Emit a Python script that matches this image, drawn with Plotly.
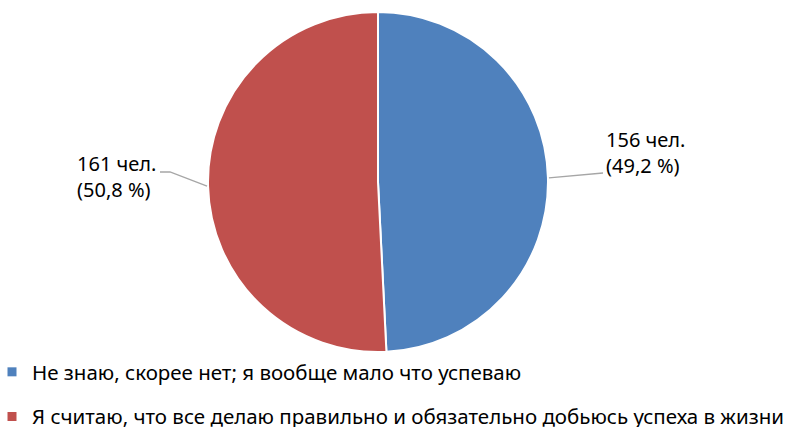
import math
import plotly.graph_objects as go

categories = [
    "Не знаю, скорее нет; я вообще мало что успеваю",
    "Я считаю, что все делаю правильно и обязательно добьюсь успеха в жизни",
]
counts = [156, 161]
percents = ["49,2", "50,8"]
colors = ["#4F81BD", "#C0504D"]

W, H = 796, 427
FONT = "Noto Sans"
FS_LEG = 20.5
FS_LAB = 20

# pie geometry (pixels)
cx, cy, r = 378, 182, 170
dom_x = [(cx - r) / W, (cx + r) / W]
dom_y = [1 - (cy + r) / H, 1 - (cy - r) / H]

fig = go.Figure()
fig.add_trace(go.Pie(
    labels=categories, values=counts, sort=False, direction="clockwise", rotation=0,
    marker=dict(colors=colors, line=dict(color="white", width=2)),
    textinfo="none", showlegend=False, domain=dict(x=dom_x, y=dom_y),
))

for cat, col in zip(categories, colors):
    fig.add_trace(go.Scatter(
        x=[None], y=[None], mode="markers", name=cat, legendgroup=cat,
        marker=dict(symbol="square", size=9, color=col),
    ))

# leader lines from slice midpoints
total = sum(counts)
cum = 0
mids = []
for v in counts:
    a = (cum + v / 2) / total * 2 * math.pi
    mids.append((cx + r * math.sin(a), cy - r * math.cos(a)))
    cum += v

def px(x, y):
    return x / W, 1 - y / H

shapes = []
x0, y0 = mids[0]
shapes.append(dict(type="path", xref="paper", yref="paper",
                   path="M {} {} L {} {}".format(*px(x0 + 1, y0), *px(603, 173)),
                   line=dict(color="#A6A6A6", width=1.3)))
x1, y1 = mids[1]
shapes.append(dict(type="path", xref="paper", yref="paper",
                   path="M {} {} L {} {} L {} {}".format(*px(x1 - 1, y1), *px(170, 172), *px(160, 172)),
                   line=dict(color="#A6A6A6", width=1.3)))

annotations = [
    dict(x=604 / W, y=1 - 153 / H, xref="paper", yref="paper", xanchor="left", yanchor="middle",
         align="left", showarrow=False,
         text=f"{counts[0]} чел.<br>({percents[0]} %)", font=dict(family=FONT, size=FS_LAB, color="#000")),
    dict(x=158 / W, y=1 - 176 / H, xref="paper", yref="paper", xanchor="right", yanchor="middle",
         align="left", showarrow=False,
         text=f"{counts[1]} чел.<br>({percents[1]} %)", font=dict(family=FONT, size=FS_LAB, color="#000")),
]

fig.update_layout(
    width=W, height=H, margin=dict(l=0, r=0, t=0, b=0, autoexpand=False),
    paper_bgcolor="white", plot_bgcolor="white",
    xaxis=dict(visible=False), yaxis=dict(visible=False),
    shapes=shapes, annotations=annotations,
    legend=dict(x=-8 / W, xanchor="left", y=1 - 352 / H, yanchor="top",
                orientation="v", tracegroupgap=15, bgcolor="rgba(0,0,0,0)",
                font=dict(family=FONT, size=FS_LEG, color="#000")),
    font=dict(family=FONT, size=FS_LAB, color="#000"),
)

fig.write_html("out.html", config={"displayModeBar": False},
               post_script="document.body.style.margin='0';")
